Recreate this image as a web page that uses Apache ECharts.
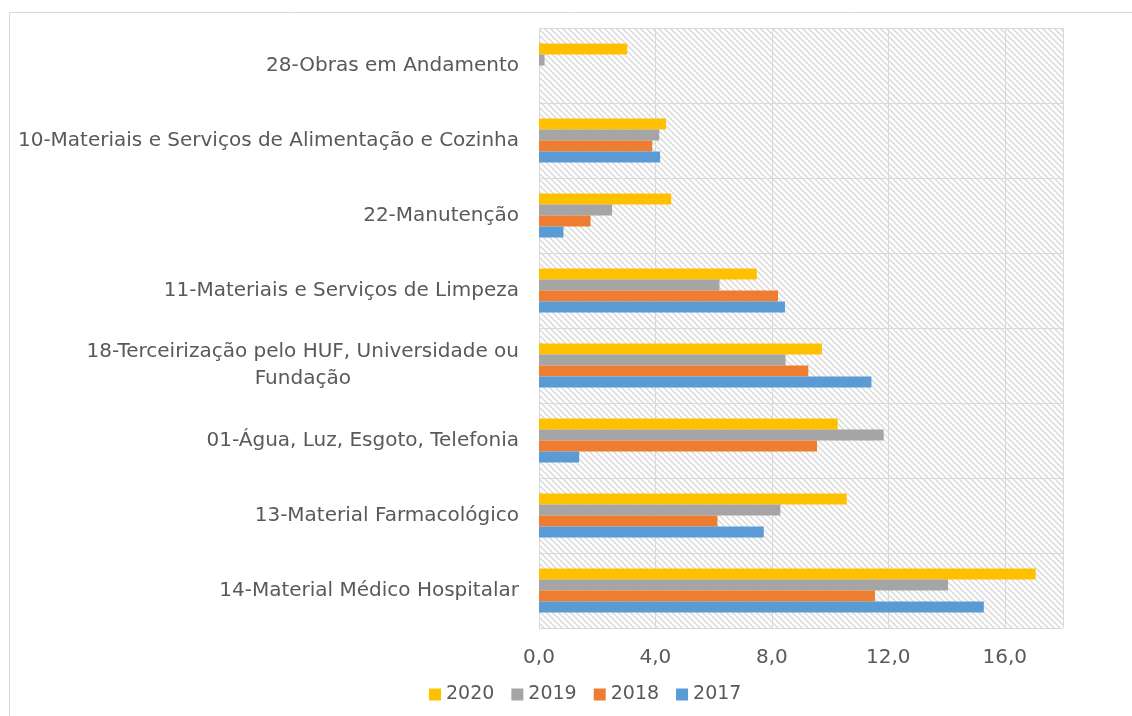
<!DOCTYPE html>
<html>
<head>
<meta charset="utf-8">
<script src="https://cdn.jsdelivr.net/npm/echarts@6/dist/echarts.min.js"></script>
<style>
  html, body { margin: 0; padding: 0; background: #fff; }
  #chart { width: 1132px; height: 716px; }
</style>
</head>
<body>
<div id="chart"></div>
<script>
// categorias de baixo para cima (como no eixo)
const categorias = [
  '14-Material Médico Hospitalar',
  '13-Material Farmacológico',
  '01-Água, Luz, Esgoto, Telefonia',
  '18-Terceirização pelo HUF, Universidade ou\nFundação',
  '11-Materiais e Serviços de Limpeza',
  '22-Manutenção',
  '10-Materiais e Serviços de Alimentação e Cozinha',
  '28-Obras em Andamento'
]
const v2017 = [15.28, 7.72, 1.38, 11.42, 8.45, 0.84, 4.16, 0]
const v2018 = [11.54, 6.13, 9.55, 9.25, 8.21, 1.77, 3.89, 0]
const v2019 = [14.05, 8.29, 11.84, 8.47, 6.20, 2.51, 4.13, 0.19]
const v2020 = [17.06, 10.57, 10.26, 9.72, 7.48, 4.54, 4.36, 3.03]
// ordem das séries: a primeira fica no topo do grupo
const anos = ['2020', '2019', '2018', '2017']
const cores = ['#FFC000', '#A5A5A5', '#ED7D31', '#5B9BD5']
const eixoX = { min: 0, max: 18, interval: 4 }

// padrão hachurado do fundo da área de plotagem
function hachura() {
  const c = document.createElement('canvas')
  c.width = 6
  c.height = 6
  const ctx = c.getContext('2d')
  ctx.fillStyle = '#ffffff'
  ctx.fillRect(0, 0, 6, 6)
  ctx.strokeStyle = '#dedede'
  ctx.lineWidth = 1.6
  ctx.beginPath()
  ctx.moveTo(-1, -1)
  ctx.lineTo(7, 7)
  ctx.moveTo(-4, 2)
  ctx.lineTo(4, 10)
  ctx.moveTo(2, -4)
  ctx.lineTo(10, 4)
  ctx.stroke()
  return c
}

const chart = echarts.init(document.getElementById('chart'))
const fonte = '"DejaVu Sans", sans-serif'
const valores = [v2020, v2019, v2018, v2017]
const tam = 20

chart.setOption({
  animation: false,
  textStyle: { fontFamily: fonte },
  graphic: [
    {
      type: 'rect',
      shape: { x: 9.5, y: 12.5, width: 1140, height: 720 },
      style: { fill: 'none', stroke: '#d9d9d9', lineWidth: 1 },
      z: -10
    }
  ],
  legend: {
    data: anos,
    bottom: 7,
    left: 424,
    itemWidth: 12,
    itemHeight: 12,
    itemGap: 17,
    icon: 'rect',
    textStyle: { color: '#595959', fontSize: 19, fontFamily: fonte }
  },
  grid: {
    left: 539,
    right: 69,
    top: 28,
    bottom: 88,
    show: true,
    borderWidth: 0,
    backgroundColor: { image: hachura(), repeat: 'repeat' }
  },
  xAxis: {
    type: 'value',
    min: eixoX.min,
    max: eixoX.max,
    interval: eixoX.interval,
    axisLine: { show: false },
    axisTick: { show: false },
    axisLabel: {
      color: '#595959',
      fontSize: tam,
      margin: 20,
      showMaxLabel: false,
      formatter: v => v.toFixed(1).replace('.', ',')
    },
    splitLine: { lineStyle: { color: '#d9d9d9', width: 1 } }
  },
  yAxis: {
    type: 'category',
    data: categorias,
    axisLine: { show: true, lineStyle: { color: '#d9d9d9' } },
    axisTick: { show: false },
    splitLine: { show: true, lineStyle: { color: '#d9d9d9', width: 1 } },
    axisLabel: {
      color: '#595959',
      fontSize: tam,
      margin: 20,
      formatter: function (v) {
        const partes = v.split('\n')
        if (partes.length === 1) return '{a|' + v + '}'
        return '{a|' + partes[0] + '}\n{b|' + partes[1] + '}'
      },
      rich: {
        a: { color: '#595959', fontSize: tam, fontFamily: fonte, lineHeight: 27 },
        b: { color: '#595959', fontSize: tam, fontFamily: fonte, lineHeight: 27, align: 'center' }
      }
    }
  },
  series: anos.map((ano, i) => ({
    name: ano,
    type: 'bar',
    data: valores[i],
    barWidth: 11,
    barGap: '0%',
    itemStyle: { color: cores[i] }
  }))
})
</script>
</body>
</html>
